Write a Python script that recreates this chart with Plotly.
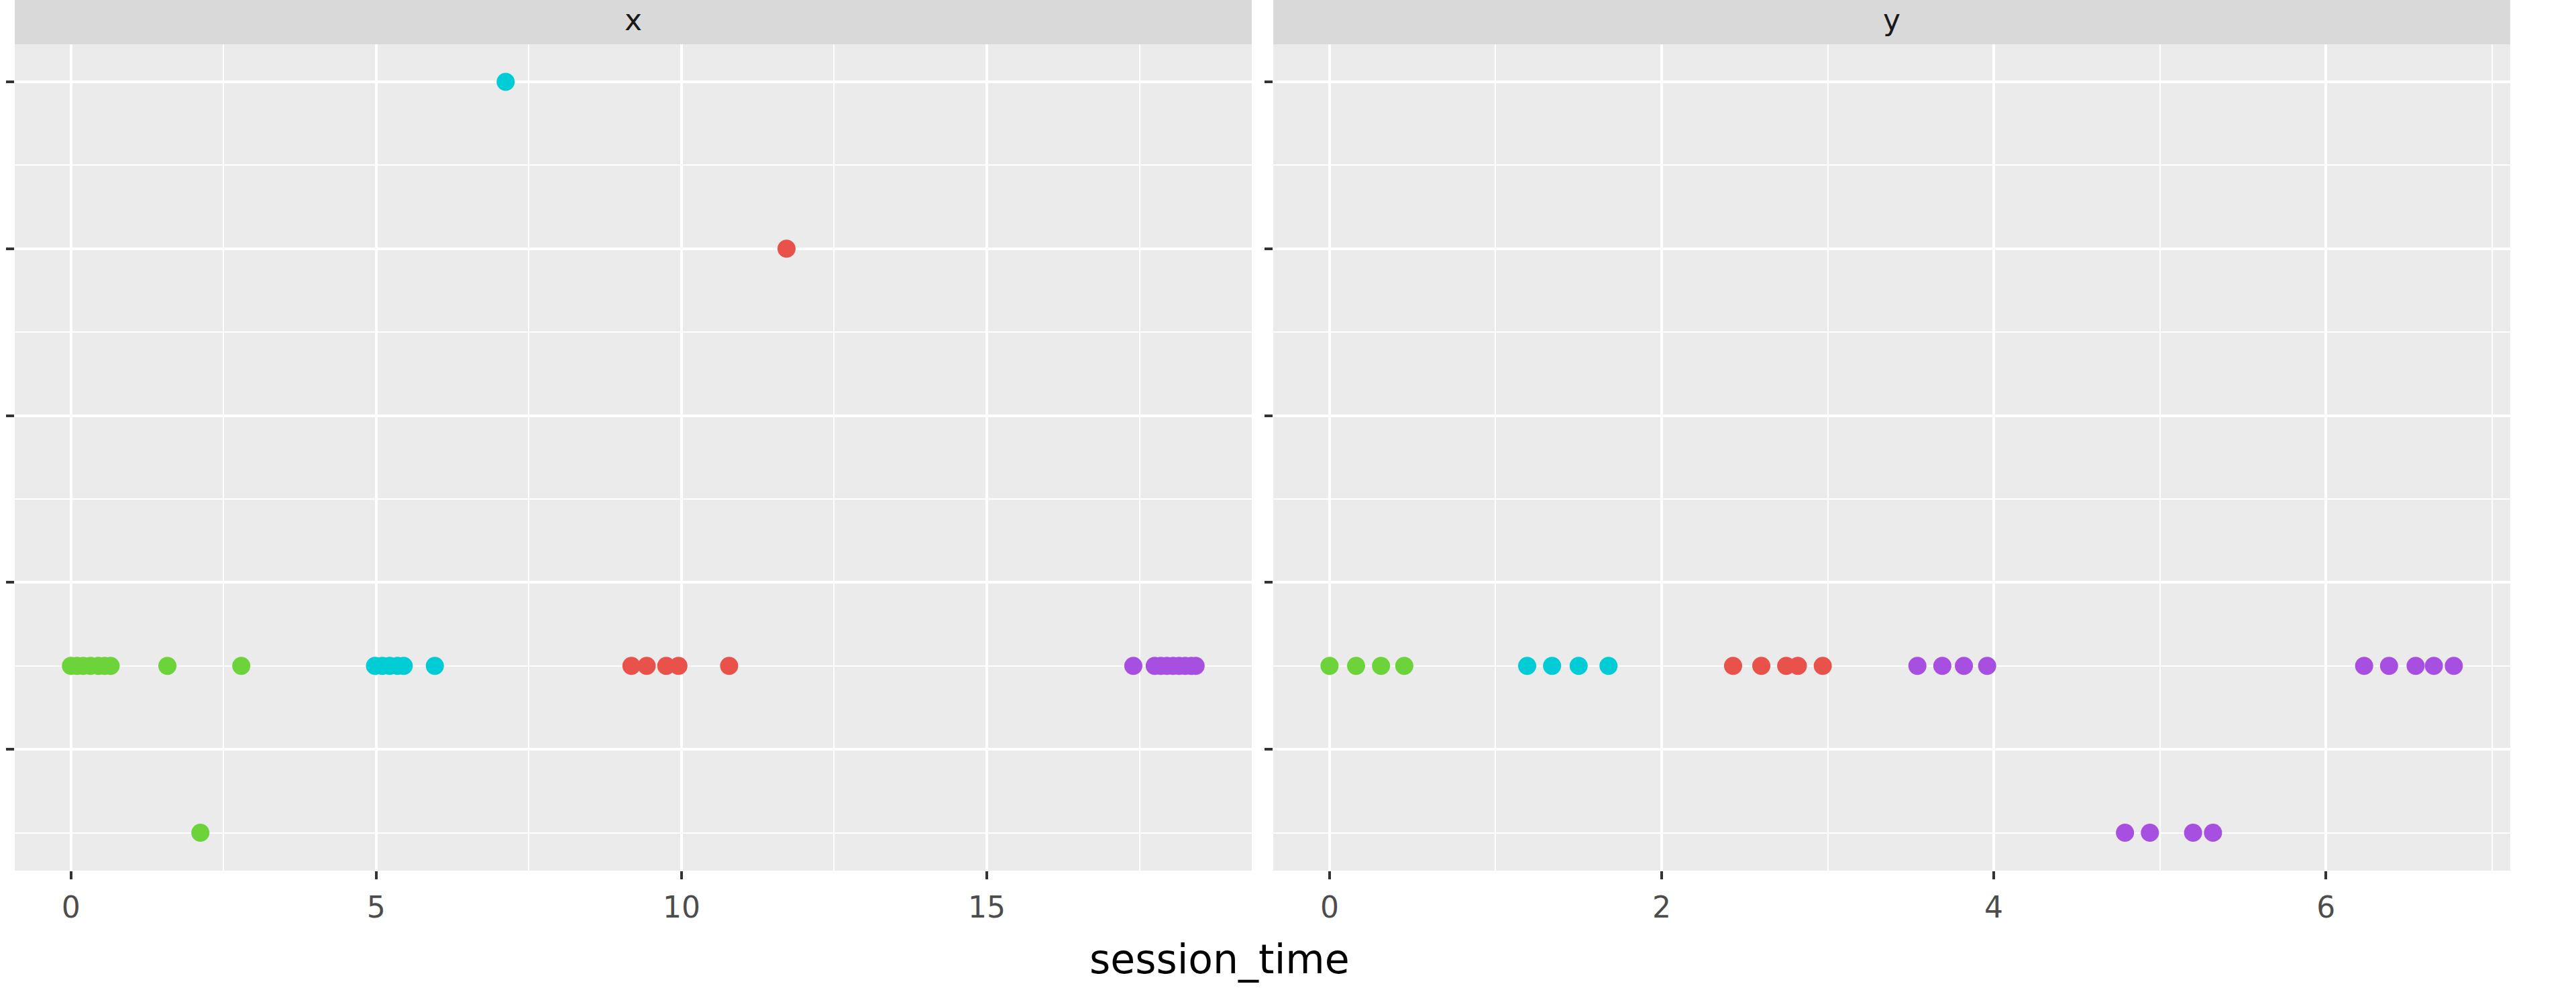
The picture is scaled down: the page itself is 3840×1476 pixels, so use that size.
import plotly.graph_objects as go

# ---------------- data ----------------
facets = ["x", "y"]
group_colors = {"red": "#E8524A", "green": "#6DD33A", "cyan": "#00CCD6", "purple": "#A64FE0"}

# facet "x"
x_green_t = [0.0, 0.1, 0.2, 0.32, 0.45, 0.55, 0.65, 1.58, 2.79, 2.12]
x_green_v = [0.5, 0.5, 0.5, 0.5, 0.5, 0.5, 0.5, 0.5, 0.5, -0.5]
x_cyan_t = [4.98, 5.1, 5.22, 5.35, 5.45, 5.96, 7.12]
x_cyan_v = [0.5, 0.5, 0.5, 0.5, 0.5, 0.5, 4.0]
x_red_t = [9.18, 9.43, 9.75, 9.95, 10.78, 11.72]
x_red_v = [0.5, 0.5, 0.5, 0.5, 0.5, 3.0]
x_purple_t = [17.40, 17.75, 17.85, 17.95, 18.05, 18.15, 18.25, 18.35, 18.42]
x_purple_v = [0.5, 0.5, 0.5, 0.5, 0.5, 0.5, 0.5, 0.5, 0.5]

# facet "y"
y_green_t = [0.0, 0.16, 0.31, 0.45]
y_green_v = [0.5, 0.5, 0.5, 0.5]
y_cyan_t = [1.19, 1.34, 1.50, 1.68]
y_cyan_v = [0.5, 0.5, 0.5, 0.5]
y_red_t = [2.43, 2.60, 2.75, 2.82, 2.97]
y_red_v = [0.5, 0.5, 0.5, 0.5, 0.5]
y_purple_t = [3.54, 3.69, 3.82, 3.96, 4.79, 4.94, 5.20, 5.32, 6.23, 6.38, 6.54, 6.65, 6.77]
y_purple_v = [0.5, 0.5, 0.5, 0.5, -0.5, -0.5, -0.5, -0.5, 0.5, 0.5, 0.5, 0.5, 0.5]

x_ticks_left = [0, 5, 10, 15]
x_minor_left = [2.5, 7.5, 12.5, 17.5]
x_ticks_right = [0, 2, 4, 6]
x_minor_right = [1, 3, 5, 7]
y_ticks = [0, 1, 2, 3, 4]
y_minor = [-0.5, 0.5, 1.5, 2.5, 3.5]

x_title = "session_time"

# ---------------- figure ----------------
W, H = 3840, 1476
ml, mr, mt, mb = 22, W - 3742, 0, H - 1298
pw = W - ml - mr
ph = H - mt - mb
left_dom = [0, (1866 - ml) / pw]
right_dom = [(1898 - ml) / pw, 1]
strip_bottom = 66
y_dom = [0, (ph - strip_bottom) / ph]

fig = go.Figure()

data_sets = [
    ("x", x_green_t, x_green_v, "green"),
    ("x", x_cyan_t, x_cyan_v, "cyan"),
    ("x", x_red_t, x_red_v, "red"),
    ("x", x_purple_t, x_purple_v, "purple"),
    ("y", y_green_t, y_green_v, "green"),
    ("y", y_cyan_t, y_cyan_v, "cyan"),
    ("y", y_red_t, y_red_v, "red"),
    ("y", y_purple_t, y_purple_v, "purple"),
]
for facet, t, v, g in data_sets:
    fig.add_trace(go.Scatter(
        x=t, y=v, mode="markers",
        marker=dict(color=group_colors[g], size=27, line=dict(width=0)),
        xaxis="x" if facet == "x" else "x2",
        yaxis="y" if facet == "x" else "y2",
        showlegend=False, name=g,
    ))

tick_font = dict(family="DejaVu Sans", size=44, color="#4D4D4D")
common_x = dict(
    showgrid=True, gridcolor="white", gridwidth=4, zeroline=False,
    ticks="outside", ticklen=12, tickwidth=4, tickcolor="#333333",
    tickfont=tick_font, showline=False, ticklabelstandoff=4,
)
common_y = dict(
    showgrid=True, gridcolor="white", gridwidth=4, zeroline=False,
    ticks="outside", ticklen=12, tickwidth=4, tickcolor="#333333",
    showticklabels=False, showline=False, range=[-0.727, 4.225],
    tickmode="array", tickvals=y_ticks, domain=y_dom,
    minor=dict(tickmode="array", tickvals=y_minor, showgrid=True,
               gridcolor="white", gridwidth=2, ticks=""),
)

fig.update_layout(
    width=W, height=H,
    margin=dict(l=ml, r=mr, t=mt, b=mb),
    paper_bgcolor="white",
    plot_bgcolor="#EBEBEB",
    hovermode=False,
    xaxis=dict(domain=left_dom, range=[-0.92, 19.34], anchor="y",
               tickmode="array", tickvals=x_ticks_left,
               minor=dict(tickmode="array", tickvals=x_minor_left, showgrid=True,
                          gridcolor="white", gridwidth=2, ticks=""),
               **common_x),
    xaxis2=dict(domain=right_dom, range=[-0.339, 7.11], anchor="y2",
                tickmode="array", tickvals=x_ticks_right,
                minor=dict(tickmode="array", tickvals=x_minor_right, showgrid=True,
                           gridcolor="white", gridwidth=2, ticks=""),
                **common_x),
    yaxis=dict(anchor="x", **common_y),
    yaxis2=dict(anchor="x2", matches="y", **common_y),
)

# facet strips
strip_text_y = 1 - 30 / ph
for dom, label in [(left_dom, facets[0]), (right_dom, facets[1])]:
    fig.add_shape(type="rect", xref="paper", yref="paper",
                  x0=dom[0], x1=dom[1], y0=y_dom[1], y1=1.0,
                  fillcolor="#D9D9D9", line=dict(width=0), layer="below")
    fig.add_annotation(x=(dom[0] + dom[1]) / 2, y=strip_text_y,
                       xref="paper", yref="paper", text=label, showarrow=False,
                       font=dict(family="DejaVu Sans", size=44, color="#1A1A1A"),
                       xanchor="center", yanchor="middle")

# x-axis title
fig.add_annotation(x=(1818 - ml) / pw, y=-(1430 - (H - mb)) / ph,
                   xref="paper", yref="paper", text=x_title, showarrow=False,
                   font=dict(family="DejaVu Sans", size=60, color="#000000"),
                   xanchor="center", yanchor="middle")

fig.write_html("out.html", config={"displayModeBar": False},
               post_script="document.body.style.margin='0';")
